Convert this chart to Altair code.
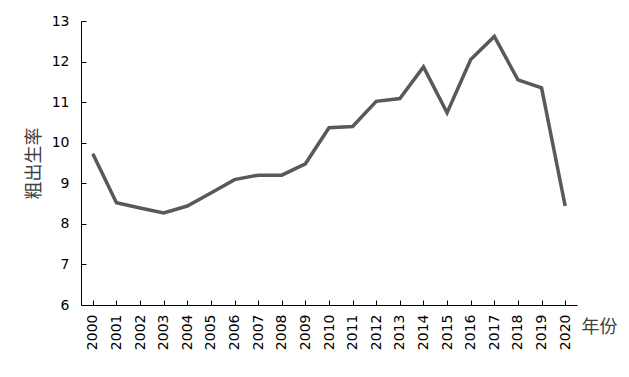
import altair as alt
import pandas as pd

years = [str(y) for y in range(2000, 2021)]
rates = [9.73, 8.52, 8.39, 8.27, 8.44, 8.76, 9.09, 9.2, 9.2, 9.48, 10.37, 10.4,
         11.02, 11.09, 11.87, 10.74, 12.05, 12.62, 11.55, 11.35, 8.44]

df = pd.DataFrame({"year": years, "rate": rates})

W, H = 496, 284
xscale = alt.Scale(paddingOuter=0.5)
yscale = alt.Scale(domain=[6, 13], nice=False, zero=False)

main = alt.Chart(df).mark_line(color="#595959", strokeWidth=3.5).encode(
    x=alt.X("year:O", scale=xscale, sort=years,
            axis=alt.Axis(title="年份", labelAngle=-90, labelAlign="right",
                          labelBaseline="middle", labelPadding=9, tickSize=0,
                          domainColor="black", labelColor="black",
                          labelFont="DejaVu Sans", labelFontSize=14,
                          titleFont="Noto Sans CJK SC", titleFontSize=18,
                          titleFontWeight="normal", titleColor="#404040",
                          titleAngle=0, titleAlign="left", titleBaseline="middle",
                          titleX=W + 4, titleY=22)),
    y=alt.Y("rate:Q", scale=yscale,
            axis=alt.Axis(title="粗出生率", values=[6, 7, 8, 9, 10, 11, 12, 13],
                          tickSize=0, labelPadding=12, grid=False,
                          domainColor="black", labelColor="black",
                          labelFont="DejaVu Sans", labelFontSize=14,
                          titleFont="Noto Sans CJK SC", titleFontSize=18,
                          titleFontWeight="normal", titleColor="#404040",
                          titlePadding=8)),
)

ticks = alt.Chart(df).mark_line(strokeOpacity=0).encode(
    x=alt.X("year:O", sort=years,
            axis=alt.Axis(orient="top", offset=-H, labels=False, domain=False,
                          title=None, tickSize=5, tickColor="black", tickWidth=1)),
    y=alt.Y("rate:Q",
            axis=alt.Axis(orient="right", offset=-W, labels=False, domain=False,
                          title=None, grid=False, values=[6, 7, 8, 9, 10, 11, 12, 13],
                          tickSize=5, tickColor="black", tickWidth=1)),
)

chart = alt.layer(main, ticks).resolve_axis(x="independent", y="independent").properties(
    width=W, height=H,
    autosize=alt.AutoSizeParams(type="none"),
    padding={"left": 81, "top": 21, "right": 52, "bottom": 72},
).configure_view(stroke=None).configure_axis(grid=False)

chart.save("out.html", embed_options={"renderer": "svg", "actions": False})
